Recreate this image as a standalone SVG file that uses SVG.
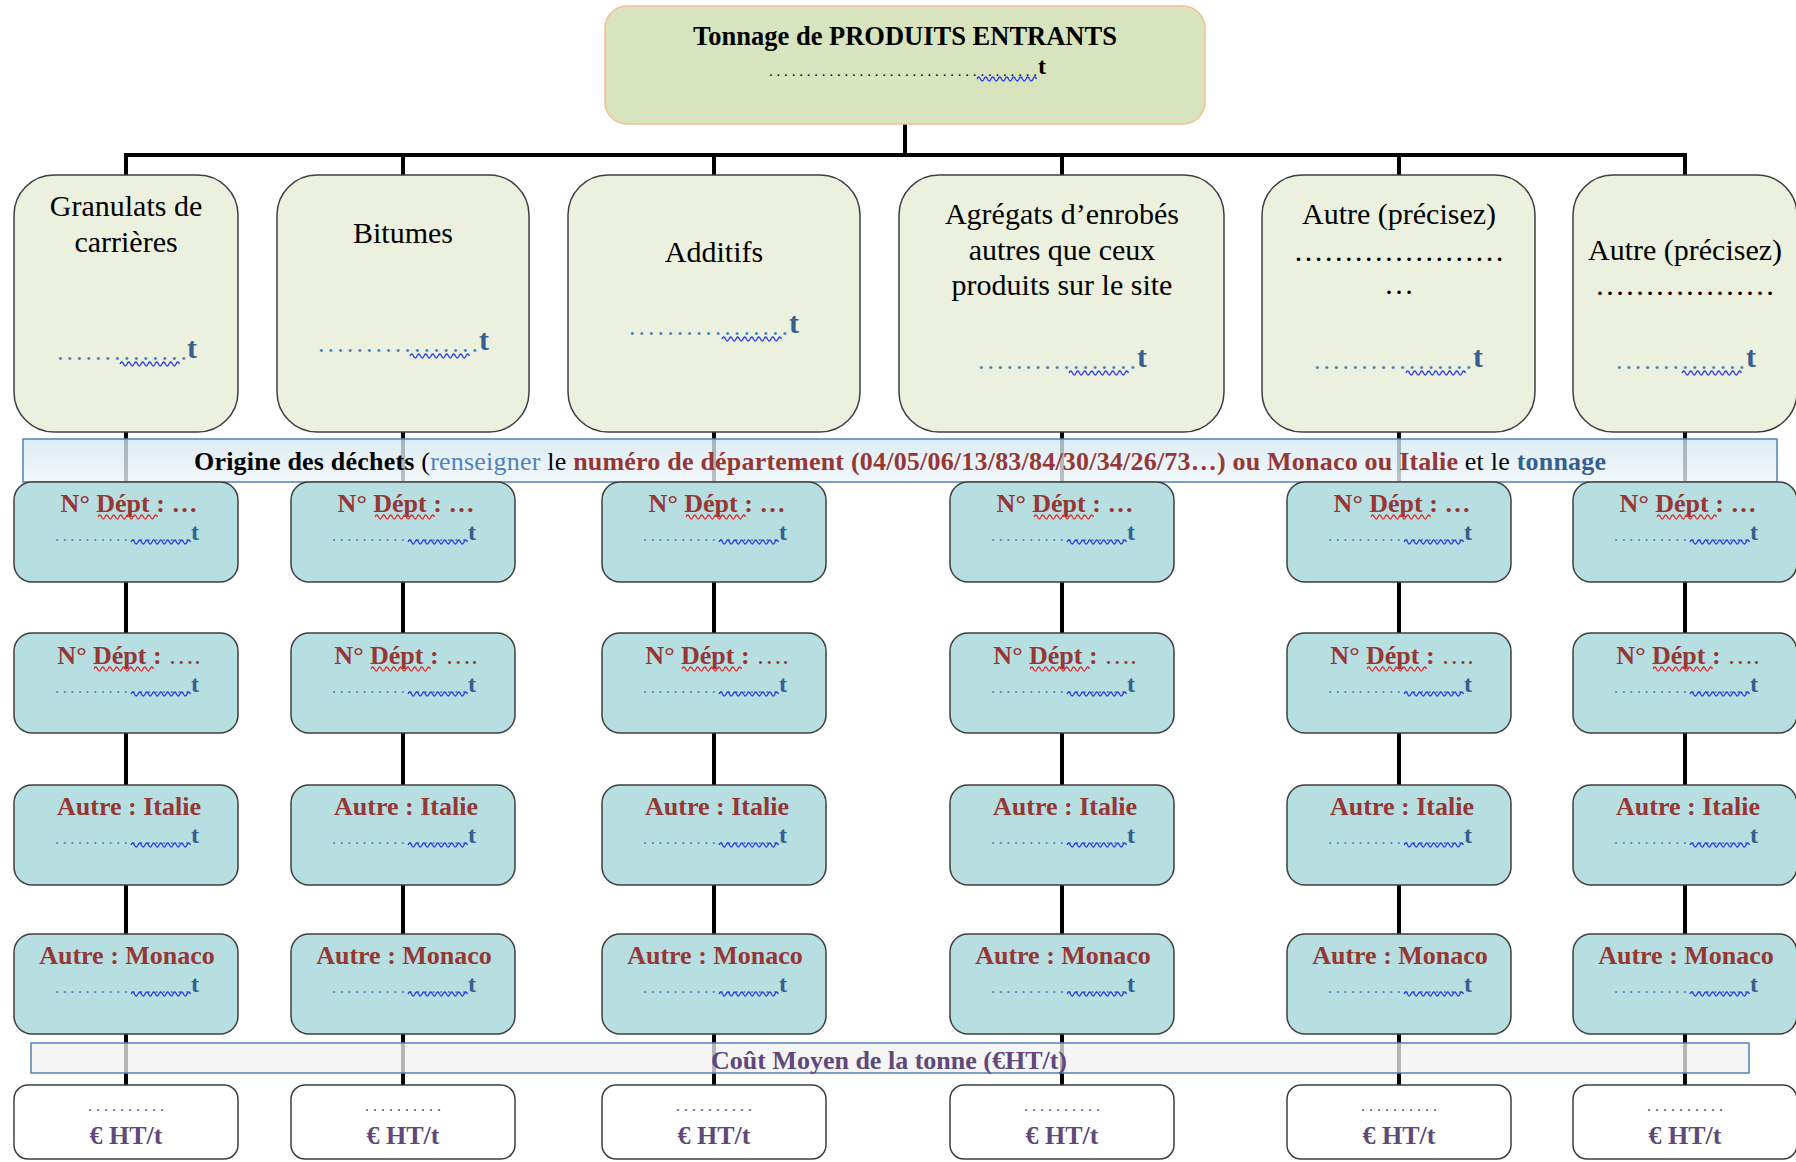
<svg xmlns="http://www.w3.org/2000/svg" xmlns:xlink="http://www.w3.org/1999/xlink" width="1796" height="1162" viewBox="0 0 1796 1162">
<defs>
<style>
text{font-family:"Liberation Serif","Times New Roman",serif}
.conn{stroke:#000;stroke-width:4;fill:none}
.top{fill:#D7E4BD;stroke:#F6BE92;stroke-width:1.5}
.cat{fill:#EBF1DE;stroke:#3F3F3F;stroke-width:1.5}
.org{fill:#B7DEE1;stroke:#3F3F3F;stroke-width:1.5}
.cost{fill:#FFFFFF;stroke:#3F3F3F;stroke-width:1.5}
.band1{fill:url(#gb);fill-opacity:0.78;stroke:#4F81BD;stroke-width:1.5}
.band2{fill:#F2F2F2;fill-opacity:0.75;stroke:#4F81BD;stroke-width:1.5}
.cl{font-size:30px;fill:#000;text-anchor:middle}
.cd{font-size:26px;fill:#4F81BD}
.ct{font-size:30px;fill:#365F91;font-weight:bold}
.lbl{font-size:26px;font-weight:bold;fill:#953735;text-anchor:middle}
.dots{font-size:16px;fill:#4F81BD}
.tt{font-size:24px;fill:#365F91;font-weight:bold}
.pd{font-size:16px;fill:#5F497A}
.eur{font-size:26px;font-weight:bold;fill:#5F497A;text-anchor:middle}
.sqb{stroke:#2A3DF0;stroke-width:1.3}
.sqr{stroke:#E03030;stroke-width:1.3}
</style>
<linearGradient id="gb" x1="0" y1="0" x2="0" y2="1">
<stop offset="0" stop-color="#D3E7F1"/>
<stop offset="1" stop-color="#EEF6FA"/>
</linearGradient>
<path id="sq" fill="none" d="M0,2 q1.75,-4 3.5,0 t3.5,0 t3.5,0 t3.5,0 t3.5,0 t3.5,0 t3.5,0 t3.5,0 t3.5,0 t3.5,0 t3.5,0 t3.5,0 t3.5,0 t3.5,0 t3.5,0 t3.5,0 t3.5,0"/>
</defs>
<rect x="0" y="0" width="1796" height="1162" fill="#FFFFFF"/>

<g id="connectors">
<line class="conn" x1="905" y1="124" x2="905" y2="155"/>
<line class="conn" x1="124" y1="155" x2="1687" y2="155"/>
<line class="conn" x1="126" y1="155" x2="126" y2="1085"/>
<line class="conn" x1="403" y1="155" x2="403" y2="1085"/>
<line class="conn" x1="714" y1="155" x2="714" y2="1085"/>
<line class="conn" x1="1062" y1="155" x2="1062" y2="1085"/>
<line class="conn" x1="1399" y1="155" x2="1399" y2="1085"/>
<line class="conn" x1="1685" y1="155" x2="1685" y2="1085"/>
</g>

<g id="root">
<rect class="top" x="605" y="6" width="600" height="118" rx="22"/>
<text x="905" y="45" font-size="26.5" font-weight="bold" text-anchor="middle" fill="#000">Tonnage de PRODUITS ENTRANTS</text>
<text x="769" y="76" font-size="15" fill="#000" textLength="268" lengthAdjust="spacing">....................................</text>
<use href="#sq" x="977" y="77" class="sqb"/>
<text x="1038" y="74" font-size="24" font-weight="bold" fill="#000">t</text>
</g>

<g id="banner-origine">
<rect class="band1" x="23" y="439" width="1754" height="43"/>
<text x="194" y="470" font-size="26" fill="#000" textLength="1412" lengthAdjust="spacing"><tspan font-weight="bold">Origine des déchets</tspan> (<tspan fill="#4F81BD">renseigner</tspan> le <tspan font-weight="bold" fill="#953735">numéro de département (04/05/06/13/83/84/30/34/26/73…) ou Monaco ou Italie</tspan> et le <tspan font-weight="bold" fill="#365F91">tonnage</tspan></text>
</g>

<g id="banner-cout">
<rect class="band2" x="31" y="1043" width="1718" height="30"/>
<text x="889" y="1069" font-size="26" font-weight="bold" text-anchor="middle" fill="#5F497A">Coût Moyen de la tonne (€HT/t)</text>
</g>

<!-- Column 1 -->
<g id="cat-granulats">
<rect class="cat" x="14" y="175" width="224" height="257" rx="40"/>
<text class="cl" x="126" y="216">Granulats de</text>
<text class="cl" x="126" y="252">carrières</text>
<text class="cd" x="57" y="360" textLength="130" lengthAdjust="spacing">..............</text>
<use href="#sq" x="120" y="362" class="sqb"/>
<text class="ct" x="187" y="358">t</text>
</g>
<g id="c1-r1">
<rect class="org" x="14" y="482" width="224" height="100" rx="18"/>
<text class="lbl" x="129" y="512">N° Dépt : …</text>
<use href="#sq" x="98" y="515" class="sqr"/>
<text class="dots" x="55" y="541" textLength="134" lengthAdjust="spacing">..................</text>
<use href="#sq" x="131" y="540" class="sqb"/>
<text class="tt" x="191" y="540">t</text>
</g>
<g id="c1-r2">
<rect class="org" x="14" y="633" width="224" height="100" rx="18"/>
<text class="lbl" x="129" y="664">N° Dépt : <tspan font-weight="normal">….</tspan></text>
<use href="#sq" x="94" y="667" class="sqr"/>
<text class="dots" x="55" y="693" textLength="134" lengthAdjust="spacing">..................</text>
<use href="#sq" x="131" y="692" class="sqb"/>
<text class="tt" x="191" y="692">t</text>
</g>
<g id="c1-r3">
<rect class="org" x="14" y="785" width="224" height="100" rx="18"/>
<text class="lbl" x="129" y="815">Autre : Italie</text>
<text class="dots" x="55" y="844" textLength="134" lengthAdjust="spacing">..................</text>
<use href="#sq" x="131" y="843" class="sqb"/>
<text class="tt" x="191" y="843">t</text>
</g>
<g id="c1-r4">
<rect class="org" x="14" y="934" width="224" height="100" rx="18"/>
<text class="lbl" x="127" y="964">Autre : Monaco</text>
<text class="dots" x="55" y="993" textLength="134" lengthAdjust="spacing">..................</text>
<use href="#sq" x="131" y="992" class="sqb"/>
<text class="tt" x="191" y="992">t</text>
</g>
<g id="c1-cost">
<rect class="cost" x="14" y="1085" width="224" height="74" rx="14"/>
<text class="pd" x="88" y="1111" textLength="76" lengthAdjust="spacing">..........</text>
<text class="eur" x="126" y="1144">€ HT/t</text>
</g>

<!-- Column 2 -->
<g id="cat-bitumes">
<rect class="cat" x="277" y="175" width="252" height="257" rx="40"/>
<text class="cl" x="403" y="243">Bitumes</text>
<text class="cd" x="318" y="352" textLength="160" lengthAdjust="spacing">.................</text>
<use href="#sq" x="410" y="354" class="sqb"/>
<text class="ct" x="479" y="350">t</text>
</g>
<g id="c2-r1">
<rect class="org" x="291" y="482" width="224" height="100" rx="18"/>
<text class="lbl" x="406" y="512">N° Dépt : …</text>
<use href="#sq" x="375" y="515" class="sqr"/>
<text class="dots" x="332" y="541" textLength="134" lengthAdjust="spacing">..................</text>
<use href="#sq" x="408" y="540" class="sqb"/>
<text class="tt" x="468" y="540">t</text>
</g>
<g id="c2-r2">
<rect class="org" x="291" y="633" width="224" height="100" rx="18"/>
<text class="lbl" x="406" y="664">N° Dépt : <tspan font-weight="normal">….</tspan></text>
<use href="#sq" x="371" y="667" class="sqr"/>
<text class="dots" x="332" y="693" textLength="134" lengthAdjust="spacing">..................</text>
<use href="#sq" x="408" y="692" class="sqb"/>
<text class="tt" x="468" y="692">t</text>
</g>
<g id="c2-r3">
<rect class="org" x="291" y="785" width="224" height="100" rx="18"/>
<text class="lbl" x="406" y="815">Autre : Italie</text>
<text class="dots" x="332" y="844" textLength="134" lengthAdjust="spacing">..................</text>
<use href="#sq" x="408" y="843" class="sqb"/>
<text class="tt" x="468" y="843">t</text>
</g>
<g id="c2-r4">
<rect class="org" x="291" y="934" width="224" height="100" rx="18"/>
<text class="lbl" x="404" y="964">Autre : Monaco</text>
<text class="dots" x="332" y="993" textLength="134" lengthAdjust="spacing">..................</text>
<use href="#sq" x="408" y="992" class="sqb"/>
<text class="tt" x="468" y="992">t</text>
</g>
<g id="c2-cost">
<rect class="cost" x="291" y="1085" width="224" height="74" rx="14"/>
<text class="pd" x="365" y="1111" textLength="76" lengthAdjust="spacing">..........</text>
<text class="eur" x="403" y="1144">€ HT/t</text>
</g>

<!-- Column 3 -->
<g id="cat-additifs">
<rect class="cat" x="568" y="175" width="292" height="257" rx="40"/>
<text class="cl" x="714" y="262">Additifs</text>
<text class="cd" x="629" y="335" textLength="159" lengthAdjust="spacing">.................</text>
<use href="#sq" x="722" y="337" class="sqb"/>
<text class="ct" x="789" y="333">t</text>
</g>
<g id="c3-r1">
<rect class="org" x="602" y="482" width="224" height="100" rx="18"/>
<text class="lbl" x="717" y="512">N° Dépt : …</text>
<use href="#sq" x="686" y="515" class="sqr"/>
<text class="dots" x="643" y="541" textLength="134" lengthAdjust="spacing">..................</text>
<use href="#sq" x="719" y="540" class="sqb"/>
<text class="tt" x="779" y="540">t</text>
</g>
<g id="c3-r2">
<rect class="org" x="602" y="633" width="224" height="100" rx="18"/>
<text class="lbl" x="717" y="664">N° Dépt : <tspan font-weight="normal">….</tspan></text>
<use href="#sq" x="682" y="667" class="sqr"/>
<text class="dots" x="643" y="693" textLength="134" lengthAdjust="spacing">..................</text>
<use href="#sq" x="719" y="692" class="sqb"/>
<text class="tt" x="779" y="692">t</text>
</g>
<g id="c3-r3">
<rect class="org" x="602" y="785" width="224" height="100" rx="18"/>
<text class="lbl" x="717" y="815">Autre : Italie</text>
<text class="dots" x="643" y="844" textLength="134" lengthAdjust="spacing">..................</text>
<use href="#sq" x="719" y="843" class="sqb"/>
<text class="tt" x="779" y="843">t</text>
</g>
<g id="c3-r4">
<rect class="org" x="602" y="934" width="224" height="100" rx="18"/>
<text class="lbl" x="715" y="964">Autre : Monaco</text>
<text class="dots" x="643" y="993" textLength="134" lengthAdjust="spacing">..................</text>
<use href="#sq" x="719" y="992" class="sqb"/>
<text class="tt" x="779" y="992">t</text>
</g>
<g id="c3-cost">
<rect class="cost" x="602" y="1085" width="224" height="74" rx="14"/>
<text class="pd" x="676" y="1111" textLength="76" lengthAdjust="spacing">..........</text>
<text class="eur" x="714" y="1144">€ HT/t</text>
</g>

<!-- Column 4 -->
<g id="cat-agregats">
<rect class="cat" x="899" y="175" width="325" height="257" rx="40"/>
<text class="cl" x="1062" y="224">Agrégats d’enrobés</text>
<text class="cl" x="1062" y="260">autres que ceux</text>
<text class="cl" x="1062" y="295">produits sur le site</text>
<text class="cd" x="978" y="369" textLength="158" lengthAdjust="spacing">.................</text>
<use href="#sq" x="1069" y="371" class="sqb"/>
<text class="ct" x="1137" y="367">t</text>
</g>
<g id="c4-r1">
<rect class="org" x="950" y="482" width="224" height="100" rx="18"/>
<text class="lbl" x="1065" y="512">N° Dépt : …</text>
<use href="#sq" x="1034" y="515" class="sqr"/>
<text class="dots" x="991" y="541" textLength="134" lengthAdjust="spacing">..................</text>
<use href="#sq" x="1067" y="540" class="sqb"/>
<text class="tt" x="1127" y="540">t</text>
</g>
<g id="c4-r2">
<rect class="org" x="950" y="633" width="224" height="100" rx="18"/>
<text class="lbl" x="1065" y="664">N° Dépt : <tspan font-weight="normal">….</tspan></text>
<use href="#sq" x="1030" y="667" class="sqr"/>
<text class="dots" x="991" y="693" textLength="134" lengthAdjust="spacing">..................</text>
<use href="#sq" x="1067" y="692" class="sqb"/>
<text class="tt" x="1127" y="692">t</text>
</g>
<g id="c4-r3">
<rect class="org" x="950" y="785" width="224" height="100" rx="18"/>
<text class="lbl" x="1065" y="815">Autre : Italie</text>
<text class="dots" x="991" y="844" textLength="134" lengthAdjust="spacing">..................</text>
<use href="#sq" x="1067" y="843" class="sqb"/>
<text class="tt" x="1127" y="843">t</text>
</g>
<g id="c4-r4">
<rect class="org" x="950" y="934" width="224" height="100" rx="18"/>
<text class="lbl" x="1063" y="964">Autre : Monaco</text>
<text class="dots" x="991" y="993" textLength="134" lengthAdjust="spacing">..................</text>
<use href="#sq" x="1067" y="992" class="sqb"/>
<text class="tt" x="1127" y="992">t</text>
</g>
<g id="c4-cost">
<rect class="cost" x="950" y="1085" width="224" height="74" rx="14"/>
<text class="pd" x="1024" y="1111" textLength="76" lengthAdjust="spacing">..........</text>
<text class="eur" x="1062" y="1144">€ HT/t</text>
</g>

<!-- Column 5 -->
<g id="cat-autre1">
<rect class="cat" x="1262" y="175" width="273" height="257" rx="40"/>
<text class="cl" x="1399" y="224">Autre (précisez)</text>
<text class="cl" x="1399" y="261" textLength="211" lengthAdjust="spacing">…………………</text>
<text class="cl" x="1399" y="294">…</text>
<text class="cd" x="1314" y="369" textLength="158" lengthAdjust="spacing">.................</text>
<use href="#sq" x="1406" y="371" class="sqb"/>
<text class="ct" x="1473" y="367">t</text>
</g>
<g id="c5-r1">
<rect class="org" x="1287" y="482" width="224" height="100" rx="18"/>
<text class="lbl" x="1402" y="512">N° Dépt : …</text>
<use href="#sq" x="1371" y="515" class="sqr"/>
<text class="dots" x="1328" y="541" textLength="134" lengthAdjust="spacing">..................</text>
<use href="#sq" x="1404" y="540" class="sqb"/>
<text class="tt" x="1464" y="540">t</text>
</g>
<g id="c5-r2">
<rect class="org" x="1287" y="633" width="224" height="100" rx="18"/>
<text class="lbl" x="1402" y="664">N° Dépt : <tspan font-weight="normal">….</tspan></text>
<use href="#sq" x="1367" y="667" class="sqr"/>
<text class="dots" x="1328" y="693" textLength="134" lengthAdjust="spacing">..................</text>
<use href="#sq" x="1404" y="692" class="sqb"/>
<text class="tt" x="1464" y="692">t</text>
</g>
<g id="c5-r3">
<rect class="org" x="1287" y="785" width="224" height="100" rx="18"/>
<text class="lbl" x="1402" y="815">Autre : Italie</text>
<text class="dots" x="1328" y="844" textLength="134" lengthAdjust="spacing">..................</text>
<use href="#sq" x="1404" y="843" class="sqb"/>
<text class="tt" x="1464" y="843">t</text>
</g>
<g id="c5-r4">
<rect class="org" x="1287" y="934" width="224" height="100" rx="18"/>
<text class="lbl" x="1400" y="964">Autre : Monaco</text>
<text class="dots" x="1328" y="993" textLength="134" lengthAdjust="spacing">..................</text>
<use href="#sq" x="1404" y="992" class="sqb"/>
<text class="tt" x="1464" y="992">t</text>
</g>
<g id="c5-cost">
<rect class="cost" x="1287" y="1085" width="224" height="74" rx="14"/>
<text class="pd" x="1361" y="1111" textLength="76" lengthAdjust="spacing">..........</text>
<text class="eur" x="1399" y="1144">€ HT/t</text>
</g>

<!-- Column 6 -->
<g id="cat-autre2">
<rect class="cat" x="1573" y="175" width="224" height="257" rx="40"/>
<text class="cl" x="1685" y="260">Autre (précisez)</text>
<text class="cl" x="1685" y="295">………………</text>
<text class="cd" x="1616" y="369" textLength="129" lengthAdjust="spacing">..............</text>
<use href="#sq" x="1682" y="371" class="sqb"/>
<text class="ct" x="1746" y="367">t</text>
</g>
<g id="c6-r1">
<rect class="org" x="1573" y="482" width="224" height="100" rx="18"/>
<text class="lbl" x="1688" y="512">N° Dépt : …</text>
<use href="#sq" x="1657" y="515" class="sqr"/>
<text class="dots" x="1614" y="541" textLength="134" lengthAdjust="spacing">..................</text>
<use href="#sq" x="1690" y="540" class="sqb"/>
<text class="tt" x="1750" y="540">t</text>
</g>
<g id="c6-r2">
<rect class="org" x="1573" y="633" width="224" height="100" rx="18"/>
<text class="lbl" x="1688" y="664">N° Dépt : <tspan font-weight="normal">….</tspan></text>
<use href="#sq" x="1653" y="667" class="sqr"/>
<text class="dots" x="1614" y="693" textLength="134" lengthAdjust="spacing">..................</text>
<use href="#sq" x="1690" y="692" class="sqb"/>
<text class="tt" x="1750" y="692">t</text>
</g>
<g id="c6-r3">
<rect class="org" x="1573" y="785" width="224" height="100" rx="18"/>
<text class="lbl" x="1688" y="815">Autre : Italie</text>
<text class="dots" x="1614" y="844" textLength="134" lengthAdjust="spacing">..................</text>
<use href="#sq" x="1690" y="843" class="sqb"/>
<text class="tt" x="1750" y="843">t</text>
</g>
<g id="c6-r4">
<rect class="org" x="1573" y="934" width="224" height="100" rx="18"/>
<text class="lbl" x="1686" y="964">Autre : Monaco</text>
<text class="dots" x="1614" y="993" textLength="134" lengthAdjust="spacing">..................</text>
<use href="#sq" x="1690" y="992" class="sqb"/>
<text class="tt" x="1750" y="992">t</text>
</g>
<g id="c6-cost">
<rect class="cost" x="1573" y="1085" width="224" height="74" rx="14"/>
<text class="pd" x="1647" y="1111" textLength="76" lengthAdjust="spacing">..........</text>
<text class="eur" x="1685" y="1144">€ HT/t</text>
</g>
</svg>
